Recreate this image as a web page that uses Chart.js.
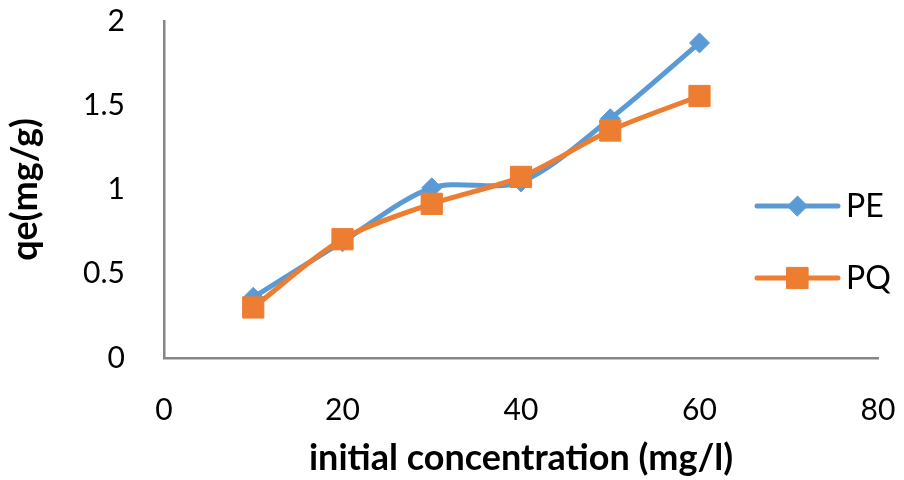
<!DOCTYPE html>
<html>
<head>
<meta charset="utf-8">
<script src="https://cdn.jsdelivr.net/npm/chart.js@4"></script>
<style>
  html, body { margin: 0; padding: 0; background: #fff; }
  #wrap { width: 904px; height: 480px; position: relative; }
</style>
</head>
<body>
<div id="wrap"><canvas id="chart" width="904" height="480"></canvas></div>
<script>
// Adsorption data
const concentrations = [10, 20, 30, 40, 50, 60];
const peValues = [0.36, 0.69, 1.01, 1.045, 1.42, 1.87];
const pqValues = [0.30, 0.705, 0.915, 1.075, 1.35, 1.555];
const xTicks = [0, 20, 40, 60, 80];
const yTicks = [0, 0.5, 1, 1.5, 2];

const seriesNames = ["PE", "PQ"];
const blue = "#5B9BD5";
const orange = "#ED7D31";

// pair x and y arrays into points
function toPoints(xs, ys) {
  return xs.map((x, i) => ({ x: x, y: ys[i] }));
}

// Excel-like legend: line segment with marker in the middle, then the label
const sideLegend = {
  id: "sideLegend",
  afterDraw(chart) {
    const ctx = chart.ctx;
    const area = chart.chartArea;
    const x0 = area.right - 121;
    const x1 = area.right - 40;
    const rows = [area.top + 185, area.top + 257];
    chart.data.datasets.forEach((ds, i) => {
      const y = rows[i];
      ctx.save();
      ctx.strokeStyle = ds.borderColor;
      ctx.lineWidth = ds.borderWidth;
      ctx.lineCap = "round";
      ctx.beginPath();
      ctx.moveTo(x0, y);
      ctx.lineTo(x1, y);
      ctx.stroke();
      ctx.fillStyle = ds.pointBackgroundColor;
      ctx.strokeStyle = ds.pointBorderColor;
      ctx.lineWidth = 1;
      Chart.helpers.drawPoint(ctx, {
        pointStyle: ds.pointStyle,
        radius: ds.pointRadius,
        borderWidth: 1,
        rotation: 0,
      }, (x0 + x1) / 2, y);
      ctx.fillStyle = "#000";
      ctx.font = "32px Lato";
      ctx.textBaseline = "middle";
      ctx.textAlign = "left";
      ctx.fillText(ds.label, x1 + 8, y + 1);
      ctx.restore();
    });
  },
};

function build() {
  const ctx = document.getElementById("chart");
  Chart.defaults.font.family = "Lato";
  Chart.defaults.color = "#000";

  new Chart(ctx, {
    type: "line",
    data: {
      datasets: [
        {
          label: seriesNames[0],
          data: toPoints(concentrations, peValues),
          borderColor: blue,
          backgroundColor: blue,
          pointBackgroundColor: blue,
          pointBorderColor: blue,
          borderWidth: 5,
          pointStyle: "rectRot",
          pointRadius: 10,
          pointBorderWidth: 1,
          tension: 0.3,
          order: 2,
        },
        {
          label: seriesNames[1],
          data: toPoints(concentrations, pqValues),
          borderColor: orange,
          backgroundColor: orange,
          pointBackgroundColor: orange,
          pointBorderColor: orange,
          borderWidth: 5,
          pointStyle: "rect",
          pointRadius: 15,
          pointBorderWidth: 1,
          tension: 0.3,
          order: 1,
        },
      ],
    },
    options: {
      responsive: false,
      animation: false,
      layout: {
        padding: { left: 0, right: 26, top: 21, bottom: 0 },
      },
      scales: {
        x: {
          type: "linear",
          min: 0,
          max: 80,
          afterBuildTicks: (scale) => {
            scale.ticks = xTicks.map((v) => ({ value: v }));
          },
          afterFit: (scale) => {
            scale.height = 122;
            scale.paddingLeft = 0;
            scale.paddingRight = 0;
          },
          grid: { display: false, drawTicks: false },
          border: { display: true, color: "#868686", width: 2.5 },
          ticks: {
            padding: 34,
            font: { size: 30 },
            color: "#000",
          },
          title: {
            display: true,
            text: "initial concentration (mg/l)",
            font: { size: 36, weight: "bold" },
            color: "#000",
            padding: { top: 0, bottom: 0 },
          },
        },
        y: {
          type: "linear",
          min: 0,
          max: 2,
          afterBuildTicks: (scale) => {
            scale.ticks = yTicks.map((v) => ({ value: v }));
          },
          afterFit: (scale) => {
            scale.width = 164;
            scale.paddingTop = 0;
            scale.paddingBottom = 0;
          },
          grid: { display: false, drawTicks: false },
          border: { display: true, color: "#868686", width: 2.5 },
          ticks: {
            padding: 39,
            font: { size: 30 },
            color: "#000",
            callback: (v) => String(v),
          },
          title: {
            display: true,
            text: "qe(mg/g)",
            font: { size: 36, weight: "bold" },
            color: "#000",
            padding: { top: 4, bottom: 0 },
          },
        },
      },
      plugins: {
        legend: { display: false },
        tooltip: { enabled: false },
      },
    },
    plugins: [sideLegend],
  });
}

if (document.fonts && document.fonts.load) {
  Promise.all([
    document.fonts.load("30px Lato"),
    document.fonts.load("bold 36px Lato"),
  ]).then(build, build);
} else {
  build();
}
</script>
</body>
</html>
